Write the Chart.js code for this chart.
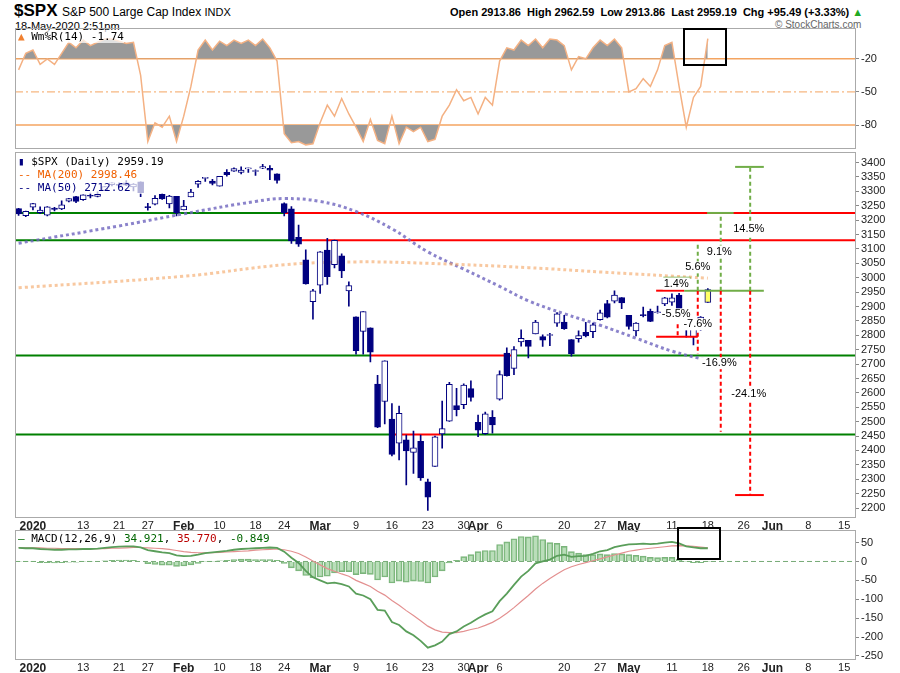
<!DOCTYPE html>
<html><head><meta charset="utf-8">
<script src="https://cdn.jsdelivr.net/npm/chart.js@4"></script>
<style>
body{margin:0;background:#fff;font-family:"Liberation Sans",Arial,sans-serif;width:900px;height:673px;position:relative;overflow:hidden}
.abs{position:absolute}
.frame{position:absolute;border:1px solid #aaa;pointer-events:none;box-sizing:border-box}
.lg{position:absolute;font-family:"DejaVu Sans Mono",monospace;font-size:11px;white-space:nowrap;background:rgba(255,255,255,0.7)}
</style></head><body>
<div class="abs" style="left:14px;top:1px;font-size:17px;font-weight:bold">$SPX</div>
<div class="abs" style="left:62px;top:5px;font-size:12px">S&amp;P 500 Large Cap Index <span style="font-size:11px">INDX</span></div>
<div class="abs" style="left:15px;top:20px;font-size:11px">18-May-2020 2:51pm</div>
<div class="abs" style="left:450px;top:6px;font-size:11px;font-weight:bold;white-space:nowrap">Open 2913.86 &nbsp;High 2962.59 &nbsp;Low 2913.86 &nbsp;Last 2959.19 &nbsp;Chg +95.49 (+3.33%) <span style="color:#2a2">&#9650;</span></div>
<div class="abs" style="left:775px;top:19px;font-size:10px;color:#666">&copy; StockCharts.com</div>

<div class="abs" style="left:15px;top:21px;width:885px;height:134px"><canvas id="c1"></canvas></div>
<div class="abs" style="left:15px;top:145px;width:885px;height:399px"><canvas id="c2"></canvas></div>
<div class="abs" style="left:15px;top:523px;width:885px;height:150px"><canvas id="c3"></canvas></div>
<div class="frame" style="left:15px;top:28px;width:841px;height:121px"></div>
<div class="frame" style="left:15px;top:152px;width:841px;height:366px"></div>
<div class="frame" style="left:15px;top:530px;width:841px;height:130px"></div>
<div class="frame" style="left:683px;top:28px;width:44px;height:38px;border:2px solid #000"></div>
<div class="frame" style="left:677px;top:527px;width:44px;height:33px;border:2px solid #000"></div>

<div class="lg" style="left:18px;top:30px"><span style="color:#f08030">&#9650;</span> Wm%R(14) -1.74</div>
<div class="lg" style="left:18px;top:155px;line-height:13px">
<span style="color:#000080">&#9646;</span> $SPX (Daily) 2959.19<br>
<span style="color:#f06000">-- MA(200) 2998.46</span><br>
<span style="color:#000080">-- MA(50) 2712.62</span></div>
<div class="lg" style="left:18px;top:532px"><span style="color:#060">&#8212;</span> MACD(12,26,9) <span style="color:#060">34.921</span>, <span style="color:#b00">35.770</span>, <span style="color:#060">-0.849</span></div>

<script>
// trading days, Dec 30 2019 .. Jun 16 2020 (future days keep the axis open)
var dec19 = [30, 31];
var jan = [2,3,6,7,8,9,10,13,14,15,16,17,21,22,23,24,27,28,29,30,31];
var feb = [3,4,5,6,7,10,11,12,13,14,18,19,20,21,24,25,26,27,28];
var mar = [2,3,4,5,6,9,10,11,12,13,16,17,18,19,20,23,24,25,26,27,30,31];
var apr = [1,2,3,6,7,8,9,13,14,15,16,17,20,21,22,23,24,27,28,29,30];
var may = [1,4,5,6,7,8,11,12,13,14,15,18,19,20,21,22,26,27,28,29];
var jun = [1,2,3,4,5,8,9,10,11,12,15,16];

var tickLabels = {
  '2020-01-02':'2020','2020-01-13':'13','2020-01-21':'21','2020-01-27':'27',
  '2020-02-03':'Feb','2020-02-10':'10','2020-02-18':'18','2020-02-24':'24',
  '2020-03-02':'Mar','2020-03-09':'9','2020-03-16':'16','2020-03-23':'23','2020-03-30':'30',
  '2020-04-01':'Apr','2020-04-06':'6','2020-04-20':'20','2020-04-27':'27',
  '2020-05-01':'May','2020-05-11':'11','2020-05-18':'18','2020-05-26':'26',
  '2020-06-01':'Jun','2020-06-08':'8','2020-06-15':'15'
};

// OHLC, Dec 30 .. May 18
var opens = [3240.09,3215.18,
 3244.67,3226.36,3217.55,3241.86,3238.59,3266.03,3281.81,3271.13,3285.35,3282.27,3302.97,3323.66,3321.03,3330.02,3315.77,3333.10,3247.16,3255.35,3289.46,3256.45,3282.33,
 3235.66,3280.61,3324.91,3344.92,3335.54,3318.28,3365.87,3370.50,3365.90,3378.08,3369.04,3380.39,3380.45,3360.50,3257.61,3238.94,3139.90,3062.54,2916.90,
 2974.28,3096.46,3045.75,3075.70,2954.20,2863.89,2813.48,2825.60,2630.86,2569.99,2508.59,2425.66,2436.50,2393.48,2431.94,2290.71,2344.44,2457.77,2501.29,2555.87,2558.98,2614.69,
 2498.08,2458.54,2514.92,2578.28,2738.65,2685.00,2776.99,2782.46,2805.10,2795.64,2799.34,2842.43,2845.62,2784.81,2787.89,2810.42,2812.64,2854.65,2909.96,2918.46,2930.91,
 2869.09,2815.01,2868.88,2883.14,2878.26,2908.83,2915.46,2939.50,2865.86,2794.54,2829.95,2913.86];
var highs = [3240.92,3231.72,
 3258.14,3246.15,3246.84,3244.91,3267.07,3275.58,3282.99,3288.13,3294.25,3298.66,3317.11,3329.88,3329.79,3337.77,3326.88,3333.18,3258.85,3285.78,3293.47,3285.91,3282.33,
 3268.44,3306.92,3337.58,3347.96,3341.42,3352.26,3375.63,3381.47,3385.09,3380.69,3375.01,3393.52,3389.15,3360.76,3259.81,3246.99,3182.51,3097.07,2959.72,
 3090.96,3136.72,3130.97,3083.04,2985.93,2863.89,2882.59,2825.60,2660.95,2711.33,2562.98,2553.93,2453.57,2466.97,2453.01,2300.73,2449.71,2571.42,2637.01,2615.91,2631.80,2641.39,
 2522.75,2533.22,2538.18,2676.85,2756.89,2760.75,2818.57,2782.46,2851.85,2801.88,2806.51,2879.22,2868.98,2785.54,2815.10,2844.90,2842.71,2887.72,2921.15,2954.86,2930.91,
 2869.09,2844.24,2898.23,2891.11,2901.92,2932.16,2944.25,2945.82,2874.14,2852.80,2865.01,2962.59];
var lows = [3216.57,3212.03,
 3235.53,3222.34,3214.64,3232.43,3236.67,3263.67,3260.86,3268.43,3277.19,3280.69,3302.82,3318.86,3316.61,3320.04,3301.87,3281.53,3234.50,3253.22,3271.89,3242.80,3214.68,
 3235.66,3280.61,3313.75,3334.39,3322.12,3317.77,3352.72,3369.72,3360.52,3366.15,3355.61,3378.83,3341.02,3328.45,3214.65,3118.77,3108.99,2977.39,2855.84,
 2945.19,2976.63,3034.38,2999.83,2901.54,2734.43,2734.00,2707.22,2478.86,2492.37,2380.94,2367.04,2280.52,2319.78,2295.56,2191.86,2344.44,2407.53,2500.72,2520.02,2545.28,2571.15,
 2447.49,2455.79,2459.96,2574.57,2657.67,2663.30,2762.36,2721.17,2805.10,2761.54,2764.32,2830.88,2820.43,2727.10,2775.95,2794.26,2791.76,2852.89,2860.71,2912.16,2892.47,
 2821.61,2797.85,2863.55,2847.65,2876.48,2902.88,2903.44,2869.59,2793.15,2766.64,2816.78,2913.86];
var closes = [3221.29,3230.78,
 3257.85,3234.85,3246.28,3237.18,3253.05,3274.70,3265.35,3288.13,3283.15,3289.29,3316.81,3329.62,3320.79,3321.75,3325.54,3295.47,3243.63,3276.24,3273.40,3283.66,3225.52,
 3248.92,3297.59,3334.69,3345.78,3327.71,3352.09,3357.75,3379.45,3373.94,3380.16,3370.29,3386.15,3373.23,3337.75,3225.89,3128.21,3116.39,2978.76,2954.22,
 3090.23,3003.37,3130.12,3023.94,2972.37,2746.56,2882.23,2741.38,2480.64,2711.02,2386.13,2529.19,2398.10,2409.39,2304.92,2237.40,2447.33,2475.56,2630.07,2541.47,2626.65,2584.59,
 2470.50,2526.90,2488.65,2663.68,2659.41,2749.98,2789.82,2761.63,2846.06,2783.36,2799.55,2874.56,2823.16,2736.56,2799.31,2797.80,2836.74,2878.48,2863.39,2939.51,2912.43,
 2830.71,2842.74,2868.44,2848.42,2881.19,2929.80,2930.32,2870.12,2820.00,2852.50,2863.70,2959.19];

// moving averages
var ma50 = [['2019-12-30',3120],['2020-01-21',3180],['2020-02-03',3222],['2020-02-18',3265],['2020-02-24',3275],
 ['2020-03-02',3265],['2020-03-09',3230],['2020-03-16',3170],['2020-03-23',3090],['2020-03-30',3030],['2020-04-06',2970],
 ['2020-04-13',2920],['2020-04-20',2875],['2020-04-27',2835],['2020-05-04',2790],['2020-05-11',2745],['2020-05-18',2712.62]];
var ma200 = [['2019-12-30',2965],['2020-02-03',3005],['2020-02-24',3045],['2020-03-09',3055],['2020-03-23',3050],
 ['2020-04-13',3035],['2020-04-27',3020],['2020-05-18',2998.46]];

var willR = [-30,-15,
 -12,-25,-20,-25,-15,-5,-10,-3,-8,-5,-2,-2,-4,-6,-5,-35,-95,-78,-82,-72,-95,
 -72,-45,-12,-3,-12,-4,-8,-3,-6,-3,-8,-2,-10,-22,-88,-96,-95,-98,-97,
 -78,-62,-72,-56,-70,-82,-95,-75,-94,-97,-72,-97,-82,-86,-82,-95,-93,-72,-62,-48,-58,-55,
 -70,-55,-62,-22,-10,-12,-3,-8,-2,-10,-2,-3,-8,-30,-18,-20,-10,-3,-8,-2,-10,
 -50,-47,-38,-45,-30,-8,-5,-45,-82,-55,-45,-1.74];

var macdLine = [36,35,
 35,33,32,31,31,32,32,33,33,34,36,38,39,40,40,37,30,27,24,22,16,
 14,15,18,22,24,26,28,31,33,34,35,36,37,36,26,10,-4,-25,-42,
 -50,-58,-56,-60,-66,-85,-90,-100,-128,-130,-160,-168,-185,-195,-210,-228,-222,-212,-192,-185,-172,-162,
 -150,-140,-132,-105,-85,-62,-40,-25,-5,0,5,15,18,12,14,15,20,27,30,38,42,
 45,46,47,46,47,50,52,48,40,37,35,34.921];
var signalLine = [37,36,
 36,36,35,35,34,34,34,34,34,34,34,35,35,36,37,37,36,35,34,32,29,
 26,24,23,23,23,24,25,26,27,28,30,31,32,33,31,27,21,12,1,
 -9,-19,-26,-33,-39,-50,-58,-66,-79,-89,-103,-116,-130,-143,-157,-171,-181,-187,-188,-188,-185,-180,
 -176,-169,-161,-150,-137,-122,-106,-90,-73,-58,-45,-33,-22,-14,-8,-3,2,7,12,17,22,
 27,30,33,35,37,39,41,42,41,40,38,35.770];

// level lines: [value, color, fromIdx, toIdx]  (idx in category units, null = edge)
var levels = [
 [3225,'#008000',null,37],[3225,'#ff0000',37,null],
 [3130,'#008000',null,39.3],[3130,'#ff0000',39.3,null],
 [2730,'#008000',null,49],[2730,'#ff0000',49,68.6],[2730,'#008000',68.6,null],
 [2455,'#008000',null,51.9],[2455,'#ff0000',51.9,58.8],[2455,'#008000',58.8,null]
];
// projection marks: [x1,y1,x2,y2,color,dashed]
var marks = [
 [88.8,2955,92.7,2955,'#ff0000',0],[89.8,3000,93.6,3000,'#70ad47',0],[88.8,2795,94.6,2795,'#ff0000',0],
 [92.7,2955,103.8,2955,'#70ad47',0],[95.9,3225,99.6,3225,'#70ad47',0],
 [99.8,3385,103.8,3385,'#70ad47',0],[99.8,2245,103.8,2245,'#ff0000',0],
 [91.8,2838,91.8,2800,'#ff0000',1],
 [94.6,2955,94.6,2735,'#ff0000',1],[94.6,2955,94.6,3120,'#70ad47',1],
 [97.8,2955,97.8,2465,'#ff0000',1],[97.8,2955,97.8,3225,'#70ad47',1],
 [101.9,2955,101.9,2245,'#ff0000',1],[101.9,2955,101.9,3385,'#70ad47',1]
];
var pctLabels = [[101.7,3168,'14.5%'],[97.6,3091,'9.1%'],[94.6,3036,'5.6%'],[91.6,2980,'1.4%'],
 [91.6,2873,'-5.5%'],[94.6,2838,'-7.6%'],[97.6,2703,'-16.9%'],[101.7,2595,'-24.1%']];

function pad(n){return n<10?'0'+n:''+n;}
var labels = [];
[[2019,12,dec19],[2020,1,jan],[2020,2,feb],[2020,3,mar],[2020,4,apr],[2020,5,may],[2020,6,jun]].forEach(function(m){
  m[2].forEach(function(d){labels.push(m[0]+'-'+pad(m[1])+'-'+pad(d));});
});

var font = '"Liberation Sans", Arial, sans-serif';
Chart.defaults.font.family = font;
Chart.defaults.animation = false;
Chart.defaults.maintainAspectRatio = false;
Chart.defaults.plugins.legend.display = false;
Chart.defaults.plugins.tooltip.enabled = false;
Chart.defaults.elements.point.radius = 0;

function xAxis(show) {
  return {
    type: 'category', offset: true, display: show,
    grid: {display: false, drawTicks: false, tickLength: 0}, border: {display: false},
    afterFit: function(a){ a.height = show ? 14 : 0; },
    ticks: {
      autoSkip: false, maxRotation: 0, padding: 1, color: '#222',
      callback: function(v){ return tickLabels[labels[v]] || ''; },
      font: function(c){ var t = c.tick && tickLabels[labels[c.tick.value]];
        return (t && isNaN(+t)) || t === '2020' ? {size: 12, weight: 'bold'} : {size: 11}; }
    }
  };
}
function yAxis(min, max, keep) {
  return {
    position: 'right', min: min, max: max,
    afterFit: function(a){ a.width = 45; },
    afterBuildTicks: function(a){ a.ticks = a.ticks.filter(function(t){ return keep.indexOf(t.value) >= 0 || (keep.length === 0 && t.value % 50 === 0); }); },
    grid: {drawOnChartArea: false, tickLength: 4, color: '#888'}, border: {display: false},
    ticks: {stepSize: keep.length ? 10 : 50, includeBounds: false, autoSkip: false, color: '#222', font: {size: 11}, padding: 2,
      callback: function(v){ return String(v); }}
  };
}
function hline(ctx, area, y, color, dash, w) {
  ctx.save(); ctx.strokeStyle = color; ctx.lineWidth = w || 1; ctx.setLineDash(dash || []);
  ctx.beginPath(); ctx.moveTo(area.left, y); ctx.lineTo(area.right, y); ctx.stroke(); ctx.restore();
}

// Williams %R panel
new Chart(document.getElementById('c1'), {
  type: 'line',
  data: {labels: labels, datasets: [
    {data: willR, borderColor: '#f4b183', borderWidth: 1.5, tension: 0,
     fill: {target: {value: -20}, above: '#999999', below: 'rgba(0,0,0,0)'}},
    {data: willR, borderWidth: 0, borderColor: 'rgba(0,0,0,0)',
     fill: {target: {value: -80}, above: 'rgba(0,0,0,0)', below: '#999999'}}
  ]},
  options: {
    layout: {padding: 0},
    scales: {x: xAxis(false), y: yAxis(-99.4, 6.5, [-20, -50, -80])},
    plugins: {filler: {propagate: false}}
  },
  plugins: [{id: 'wlev', beforeDatasetsDraw: function(ch){
    var a = ch.chartArea, y = ch.scales.y;
    hline(ch.ctx, a, y.getPixelForValue(-20), '#f4a460', [], 1.5);
    hline(ch.ctx, a, y.getPixelForValue(-80), '#f4a460', [], 1.5);
    hline(ch.ctx, a, y.getPixelForValue(-50), '#f4a460', [8, 3, 2, 3], 1);
  }}]
});

// price panel
var wicks = labels.map(function(l, i){ return i < closes.length ? [lows[i], highs[i]] : null; });
var bodies = labels.map(function(l, i){ return i < closes.length ? [opens[i], closes[i]] : null; });
var last = closes.length - 1;
new Chart(document.getElementById('c2'), {
  type: 'bar',
  data: {labels: labels, datasets: [
    {type: 'line', data: ma200.map(function(p){ return {x: p[0], y: p[1]}; }), borderColor: 'rgba(244,164,96,0.6)',
     borderWidth: 3, borderDash: [3, 3], tension: 0.4, order: 3},
    {type: 'line', data: ma50.map(function(p){ return {x: p[0], y: p[1]}; }), borderColor: 'rgba(110,100,190,0.8)',
     borderWidth: 3, borderDash: [3, 3], tension: 0.4, order: 3},
    {data: wicks, backgroundColor: '#000080', barThickness: 1, grouped: false, order: 2},
    {data: bodies, grouped: false, barThickness: 6, borderWidth: 1, borderSkipped: false, order: 1,
     borderColor: '#000080', minBarLength: 1,
     backgroundColor: labels.map(function(l, i){ if (i === last) return '#ffff66';
       return i < closes.length && closes[i] >= opens[i] ? '#ffffff' : '#000080'; })}
  ]},
  options: {
    layout: {padding: {bottom: 12}},
    scales: {x: xAxis(true), y: yAxis(2165.3, 3431.2, [])}
  },
  plugins: [{id: 'lev', beforeDatasetsDraw: function(ch){
    var ctx = ch.ctx, a = ch.chartArea, x = ch.scales.x, y = ch.scales.y;
    ctx.save(); ctx.lineWidth = 2;
    levels.forEach(function(l){
      var x1 = l[2] === null ? a.left : x.getPixelForValue(l[2]);
      var x2 = l[3] === null ? a.right : x.getPixelForValue(l[3]);
      ctx.strokeStyle = l[1]; ctx.beginPath();
      ctx.moveTo(x1, y.getPixelForValue(l[0])); ctx.lineTo(x2, y.getPixelForValue(l[0])); ctx.stroke();
    });
    ctx.restore();
  }, afterDatasetsDraw: function(ch){
    var ctx = ch.ctx, x = ch.scales.x, y = ch.scales.y;
    ctx.save(); ctx.lineWidth = 2;
    marks.forEach(function(m){
      ctx.strokeStyle = m[4]; ctx.setLineDash(m[5] ? [4, 3] : []);
      ctx.beginPath(); ctx.moveTo(x.getPixelForValue(m[0]), y.getPixelForValue(m[1]));
      ctx.lineTo(x.getPixelForValue(m[2]), y.getPixelForValue(m[3])); ctx.stroke();
    });
    ctx.setLineDash([]); ctx.font = '11px ' + font; ctx.fillStyle = '#000';
    ctx.textAlign = 'center'; ctx.textBaseline = 'middle';
    pctLabels.forEach(function(p){
      var px = x.getPixelForValue(p[0]), py = y.getPixelForValue(p[1]);
      var w = ctx.measureText(p[2]).width;
      ctx.fillStyle = '#fff'; ctx.fillRect(px - w/2 - 1, py - 6, w + 2, 12);
      ctx.fillStyle = '#000'; ctx.fillText(p[2], px, py);
    });
    ctx.restore();
  }}]
});

// MACD panel
var hist = macdLine.map(function(v, i){ return v - signalLine[i]; });
new Chart(document.getElementById('c3'), {
  type: 'bar',
  data: {labels: labels, datasets: [
    {type: 'line', data: signalLine, borderColor: '#e39090', borderWidth: 1.2, order: 1},
    {type: 'line', data: macdLine, borderColor: '#5a9e5a', borderWidth: 1.8, order: 0},
    {data: hist, backgroundColor: 'rgba(140,200,140,0.6)', borderColor: 'rgba(90,160,90,0.8)',
     borderWidth: 1, barThickness: 6, order: 2}
  ]},
  options: {
    layout: {padding: {bottom: -1}},
    scales: {x: xAxis(true), y: yAxis(-260.6, 79, [])}
  },
  plugins: [{id: 'zero', beforeDatasetsDraw: function(ch){
    hline(ch.ctx, ch.chartArea, ch.scales.y.getPixelForValue(0), '#7a7', [5, 3], 1);
  }}]
});
</script>
</body></html>
